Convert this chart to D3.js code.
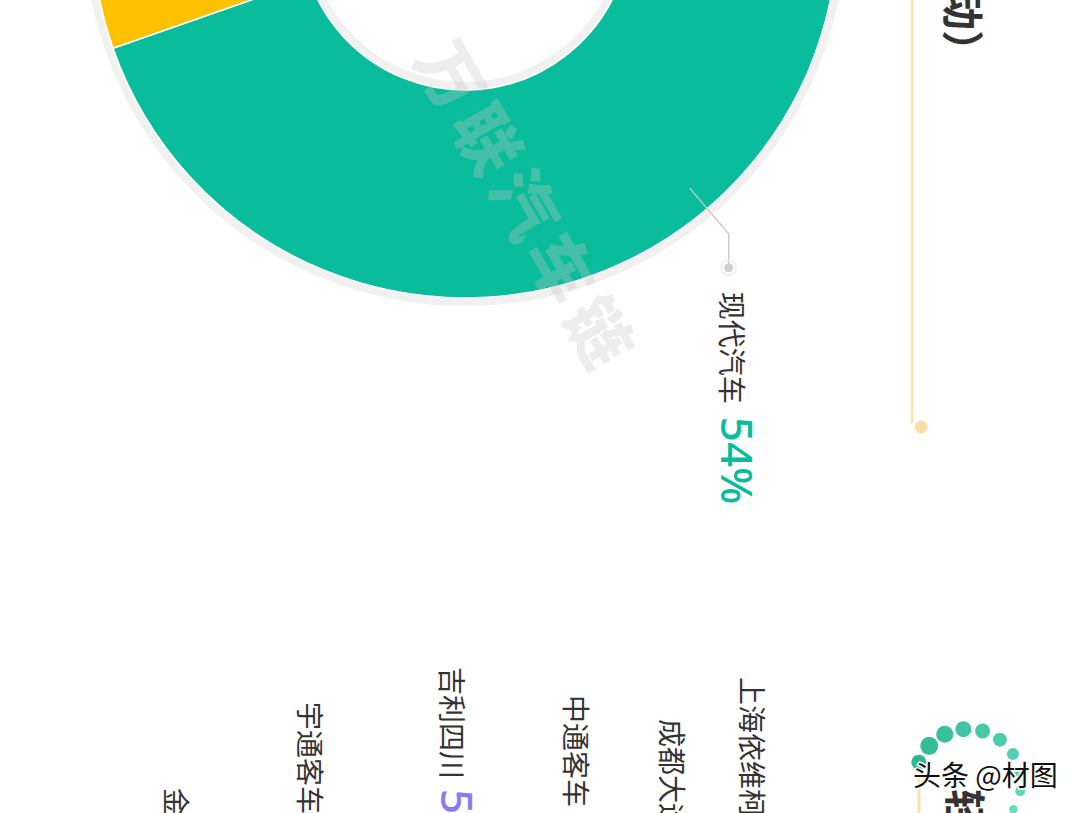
<!DOCTYPE html>
<html><head><meta charset="utf-8">
<script src="https://cdn.jsdelivr.net/npm/d3@7"></script>
<style>html,body{margin:0;padding:0;background:#fff;overflow:hidden}</style>
</head><body>
<svg id="c" width="1080" height="813"></svg>
<script>
// ---------- data ----------
// donut 1 (only 现代汽车 is fully visible)
const brands1 = ["现代汽车", "其他"];
const shares1 = [54, 46];
const colors1 = ["#08BC9C", "#FFC000"];
const labelled1 = ["现代汽车"];

// donut 2 labels (only partly visible at bottom of picture)
const brands2 = ["金龙客车", "宇通客车", "吉利四川", "中通客车", "成都大运", "上海依维柯"];
const shares2 = [null, null, 5, null, null, null];
const colors2 = ["#333", "#333", "#8B7BF3", "#333", "#333", "#333"];

const titleTop = "燃料电池汽车销量占比（纯电动）";
const titleNext = "轻型客车市场格局";
const watermark = "万联汽车链";
const credit = "头条 @材图";

// ---------- layout ----------
const W = 1080, H = 813;
const svg = d3.select("#c");
const deg = Math.PI / 180;
const F = "'Noto Sans CJK SC','Noto Sans',sans-serif";

const cx = 465, cy = -75;
const pieStart = 56.3 * deg;
const rIn = 165, rOut = 373;
const labelAngle = 139.5 * deg;

const g1 = svg.append("g").attr("transform", `translate(${cx},${cy})`);
// background ring
g1.append("path")
  .attr("d", d3.arc().innerRadius(rIn - 8).outerRadius(rOut + 8).startAngle(0).endAngle(2 * Math.PI)())
  .attr("fill", "#F1F1F1");

const pie = d3.pie().sort(null).value(d => d.v).startAngle(pieStart).endAngle(pieStart + 2 * Math.PI);
const arcs = pie(brands1.map((n, i) => ({ n, v: shares1[i], c: colors1[i] })));
const arc = d3.arc().innerRadius(rIn).outerRadius(rOut);
g1.selectAll("path.slice").data(arcs).join("path")
  .attr("class", "slice")
  .attr("d", arc)
  .attr("fill", d => d.data.c)
  .attr("stroke", "#fff").attr("stroke-width", 1.6);

// watermark across donut
svg.append("text")
  .attr("transform", "translate(530,205) rotate(60)")
  .attr("text-anchor", "middle").attr("dominant-baseline", "central")
  .attr("font-family", F).attr("font-weight", 900).attr("font-size", 66)
  .attr("letter-spacing", 8)
  .attr("fill", "#c8c8c8").attr("fill-opacity", 0.32)
  .text(watermark);

// leader + label for 现代汽车
arcs.filter(d => labelled1.includes(d.data.n)).forEach(d => {
  const pt = r => [cx + r * Math.sin(labelAngle), cy - r * Math.cos(labelAngle)];
  const p0 = pt(rOut - 27), p1 = pt(rOut + 33);
  const p2 = [p1[0], p1[1] + 30];
  svg.append("path")
    .attr("d", d3.line()([p0, p1, p2]))
    .attr("fill", "none").attr("stroke", "#c9c9c9").attr("stroke-width", 1.3);
  svg.append("circle").attr("cx", p2[0]).attr("cy", p2[1] + 4).attr("r", 7.5)
    .attr("fill", "none").attr("stroke", "#ededed").attr("stroke-width", 1.5);
  svg.append("circle").attr("cx", p2[0]).attr("cy", p2[1] + 4).attr("r", 4.5).attr("fill", "#d0d0d0");
  const lg = svg.append("g").attr("transform", `translate(${p2[0] - 8},${p2[1] + 28}) rotate(90)`);
  const t = lg.append("text").attr("font-family", F);
  t.append("tspan").attr("font-size", 28).attr("fill", "#333").text(d.data.n);
  t.append("tspan").attr("dx", 13).attr("font-size", 44).attr("font-weight", 500).attr("fill", d.data.c)
    .attr("font-family", "'Noto Sans',sans-serif").text(Math.round(d.value) + "%");
});

// donut 2 labels (visible part)
const labelPos2 = [[165, 788], [299, 702], [441, 667], [565, 695], [661, 719], [741, 677]];
brands2.forEach((n, i) => {
  const [x, y] = labelPos2[i];
  const t = svg.append("g").attr("transform", `translate(${x},${y}) rotate(90)`)
    .append("text").attr("font-family", F);
  t.append("tspan").attr("font-size", 28).attr("fill", "#333").text(n);
  if (shares2[i] != null)
    t.append("tspan").attr("dx", 10).attr("font-size", 44).attr("font-weight", 500).attr("fill", colors2[i])
      .attr("font-family", "'Noto Sans',sans-serif").text(shares2[i] + "%");
});

// section decoration: top title line
svg.append("line").attr("x1", 912).attr("x2", 912).attr("y1", 0).attr("y2", 423)
  .attr("stroke", "#FDE0AE").attr("stroke-width", 2.5);
svg.append("circle").attr("cx", 921).attr("cy", 427).attr("r", 6.5).attr("fill", "#FDDDA6");
svg.append("g").attr("transform", "translate(965,72) rotate(90)")
  .append("text").attr("text-anchor", "end").attr("dominant-baseline", "central")
  .attr("font-family", F).attr("font-weight", 700).attr("font-size", 42).attr("fill", "#333")
  .text(titleTop);

// next section header
svg.append("line").attr("x1", 919).attr("x2", 919).attr("y1", 768).attr("y2", H)
  .attr("stroke", "#FDE0AE").attr("stroke-width", 3);
const dotR = [7.5, 9, 8.5, 8, 7.5, 7, 6, 5.5, 5, 4.2, 3.6, 3];
const dotCol = d3.interpolateRgb("#2DB894", "#72E4CD");
dotR.forEach((r, i) => {
  const a = (202 + 21 * i) * deg;
  svg.append("circle").attr("cx", 968 + 53 * Math.cos(a)).attr("cy", 782 + 53 * Math.sin(a))
    .attr("r", r).attr("fill", dotCol(i / (dotR.length - 1)));
});
svg.append("g").attr("transform", "translate(967,789) rotate(90)")
  .append("text").attr("dominant-baseline", "central")
  .attr("font-family", F).attr("font-weight", 700).attr("font-size", 42).attr("fill", "#333")
  .text(titleNext);

// credit overlay
svg.append("text").attr("x", 913).attr("y", 786)
  .attr("font-family", F).attr("font-size", 28).attr("fill", "#111")
  .attr("stroke", "#fff").attr("stroke-width", 3).attr("paint-order", "stroke")
  .text(credit);
</script>
</body></html>
